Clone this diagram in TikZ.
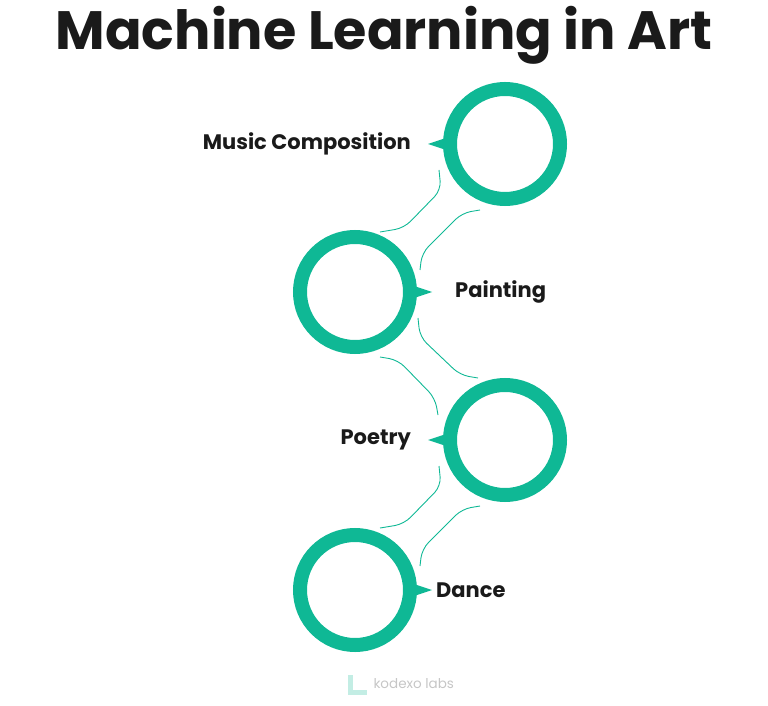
\documentclass[tikz,border=0pt]{standalone}
\usepackage{fontspec}
\setmainfont{Poppins}
\usetikzlibrary{positioning, calc}
\definecolor{teal}{HTML}{0FB895}
\definecolor{ink}{HTML}{1A1A1A}

\begin{document}
\begin{tikzpicture}[
      x=1pt, y=1pt,
      ring/.style   = {circle, draw=teal, line width=14pt, minimum size=110pt, inner sep=0pt, outer sep=0pt},
      label/.style  = {font=\bfseries\fontsize{21}{25}\selectfont, text=ink, inner sep=0pt},
      wire/.style   = {draw=teal, line width=0.9pt, rounded corners=9pt},
      tip/.style    = {fill=teal}
  ]
  \useasboundingbox (0,0) rectangle (768,705);

  % --- Title ---
  \node[font=\bfseries\fontsize{54}{60}\selectfont, text=ink] (title) at (384,670) {Machine Learning in Art};

  % --- Rings ---
  \node[ring] (c1) at (505,561) {};
  \node[ring] (c2) at (355,413) {};
  \node[ring] (c3) at (505,265) {};
  \node[ring] (c4) at (355,115) {};

  % --- Pointers ---
  \fill[tip] ($(c1.west)+(2,8)$) -- ($(c1.west)+(-22,0)$) -- ($(c1.west)+(2,-8)$) -- cycle;
  \fill[tip] ($(c2.east)+(-2,8)$) -- ($(c2.east)+(22,0)$) -- ($(c2.east)+(-2,-8)$) -- cycle;
  \fill[tip] ($(c3.west)+(2,8)$) -- ($(c3.west)+(-22,0)$) -- ($(c3.west)+(2,-8)$) -- cycle;
  \fill[tip] ($(c4.east)+(-2,8)$) -- ($(c4.east)+(22,0)$) -- ($(c4.east)+(-2,-8)$) -- cycle;

  % --- Labels ---
  \node[label, anchor=east] (lmusic) at (411,561) {Music Composition};
  \node[label, anchor=west] (lpaint) at (455,413) {Painting};
  \node[label, anchor=east] (lpoetry) at (411,265) {Poetry};
  \node[label, anchor=west] (ldance) at (436,115) {Dance};

  % --- Connectors ---
  \foreach \a/\b in {c1/c2, c3/c4} {
    \draw[wire] ($(\a)+(-66,-26)$) -- ($(\a)+(-64,-46)$) -- ($(\a)+(-101,-84)$) -- ($(\a)+(-125,-88)$);
    \draw[wire] ($(\a)+(-25,-66)$) -- ($(\a)+(-43,-69)$) -- ($(\a)+(-83,-109)$) -- ($(\a)+(-85,-126)$);
  }
  \draw[wire] ($(c2)+(25,-65)$) -- ($(c2)+(43,-68)$) -- ($(c2)+(80,-106)$) -- ($(c2)+(83,-123)$);
  \draw[wire] ($(c2)+(63,-26)$) -- ($(c2)+(65,-45)$) -- ($(c2)+(105,-83)$) -- ($(c2)+(123,-86)$);

  % --- Logo ---
  \node[font=\fontsize{13.5}{16}\selectfont, text=gray!45, anchor=west] (logo) at (370,21) {kodexo labs};
  \draw[teal!25, line width=5pt] ($(logo.west)+(-20,9)$) -- ($(logo.west)+(-20,-8)$) -- ($(logo.west)+(-3,-8)$);
  \end{tikzpicture}
\end{document}
